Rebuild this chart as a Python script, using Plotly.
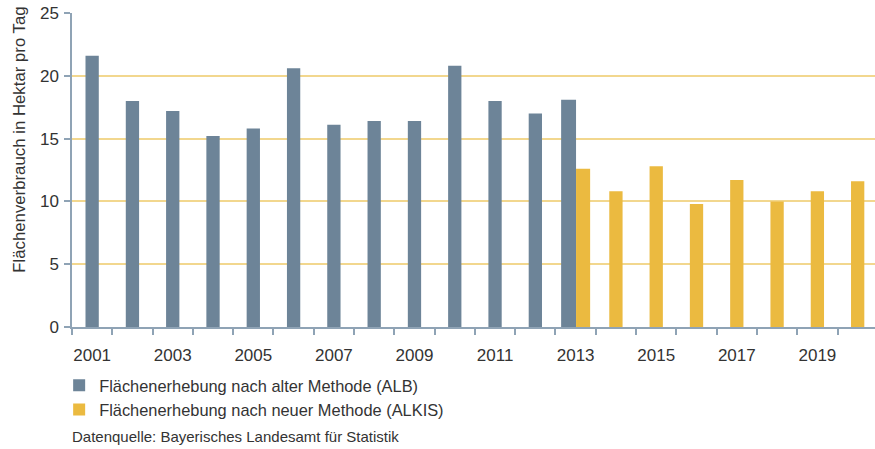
import plotly.graph_objects as go

years_alb = list(range(2001, 2014))
values_alb = [21.6, 18.0, 17.2, 15.2, 15.8, 20.6, 16.1, 16.4, 16.4, 20.8, 18.0, 17.0, 18.1]
years_alkis = list(range(2013, 2021))
values_alkis = [12.6, 10.8, 12.8, 9.8, 11.7, 10.0, 10.8, 11.6]
tick_labels = ["2001", "2003", "2005", "2007", "2009", "2011", "2013", "2015", "2017", "2019"]
tick_years = [int(t) for t in tick_labels]

name_alb = "Flächenerhebung nach alter Methode (ALB)"
name_alkis = "Flächenerhebung nach neuer Methode (ALKIS)"
source = "Datenquelle: Bayerisches Landesamt für Statistik"
y_title = "Flächenverbrauch in Hektar pro Tag"

c_alb = "#6d8498"
c_alkis = "#ebba40"
c_grid = "#f2d78e"
c_axis = "#8fa3b5"
c_text = "#333333"

w = 0.33
alb_offset = [-0.36 if y == 2013 else -w / 2 for y in years_alb]
alb_width = [0.37 if y == 2013 else w for y in years_alb]
alkis_offset = [0.01 if y == 2013 else -w / 2 for y in years_alkis]
alkis_width = [0.35 if y == 2013 else w for y in years_alkis]

fig = go.Figure()
fig.add_trace(go.Bar(x=years_alb, y=values_alb, name=name_alb, marker_color=c_alb,
                     offset=alb_offset, width=alb_width, marker_line_width=0))
fig.add_trace(go.Bar(x=years_alkis, y=values_alkis, name=name_alkis, marker_color=c_alkis,
                     offset=alkis_offset, width=alkis_width, marker_line_width=0))

fig.update_layout(
    width=875, height=449,
    margin=dict(l=72, r=0, t=13, b=122),
    paper_bgcolor="white", plot_bgcolor="white",
    font=dict(family="Liberation Sans, Arial, sans-serif", color=c_text, size=17),
    barmode="overlay",
    showlegend=True,
    legend=dict(orientation="v", x=-0.016, y=-0.131, xanchor="left", yanchor="top",
                font=dict(size=16.4, color=c_text), tracegroupgap=0, itemwidth=30,
                bgcolor="rgba(0,0,0,0)"),
    xaxis=dict(
        range=[2000.5, 2020.43],
        tickmode="array", tickvals=tick_years, ticktext=tick_labels,
        ticks="", showgrid=False, zeroline=False,
        showline=True, linecolor=c_axis, linewidth=1.5,
        tickfont=dict(size=17, color=c_text),
        ticklabelstandoff=12,
        minor=dict(tickmode="array", tickvals=[y + 0.5 for y in range(2000, 2021)],
                   ticks="outside", ticklen=6, tickcolor=c_axis, tickwidth=1.5, showgrid=False),
    ),
    yaxis=dict(
        range=[0, 25], tickvals=[0, 5, 10, 15, 20, 25],
        ticks="outside", ticklen=6, tickcolor=c_axis, tickwidth=1.5,
        showgrid=True, gridcolor=c_grid, gridwidth=1.5,
        zeroline=False, showline=True, linecolor=c_axis, linewidth=1.5,
        tickfont=dict(size=17, color=c_text),
        ticklabelstandoff=2,
    ),
)

fig.add_annotation(text=y_title, xref="paper", yref="paper", x=-0.0648, y=0.596,
                   xanchor="center", yanchor="middle", textangle=-90, showarrow=False,
                   font=dict(size=16.8, color=c_text))
fig.add_annotation(text=source, xref="paper", yref="paper", x=-0.002, y=-0.35,
                   xanchor="left", yanchor="middle", showarrow=False,
                   font=dict(size=15, color=c_text))

fig.write_html("out.html")
